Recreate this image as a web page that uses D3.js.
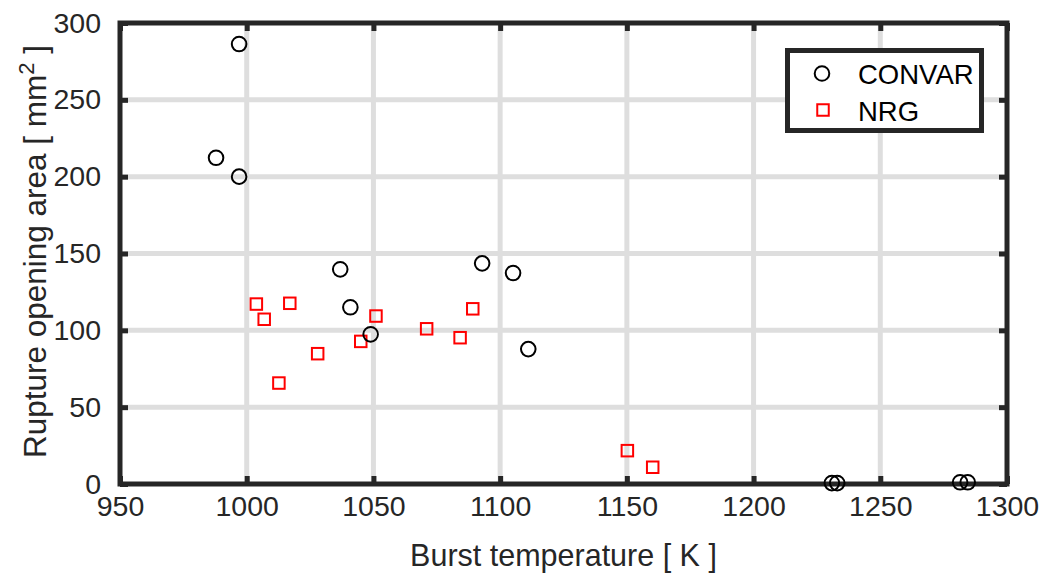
<!DOCTYPE html>
<html>
<head>
<meta charset="utf-8">
<script src="https://cdn.jsdelivr.net/npm/d3@7"></script>
<style>
  html, body { margin: 0; padding: 0; background: #fff; }
  svg { display: block; font-family: "Liberation Sans", Arial, sans-serif; }
</style>
</head>
<body>
<svg id="chart" width="1045" height="575"></svg>
<script>
// Burst temperature [K] and rupture opening area [mm^2]
const convarTemp = [997, 987.9, 997, 1036.9, 1040.9, 1048.9, 1092.9, 1105.1, 1111.1, 1230.9, 1233, 1281.5, 1284.5];
const convarArea = [286.3, 212.3, 200, 139.7, 115, 97.4, 143.6, 137.3, 87.8, 0.6, 0.6, 1.1, 1.1];
const nrgTemp = [1003.8, 1017, 1006.9, 1012.7, 1028, 1045, 1051, 1071, 1084.2, 1089.2, 1150.2, 1160.2];
const nrgArea = [117.1, 117.6, 107.2, 65.7, 84.8, 92.8, 109.3, 101, 95.2, 114, 21.7, 10.9];
const xTicks = [950, 1000, 1050, 1100, 1150, 1200, 1250, 1300];
const yTicks = [0, 50, 100, 150, 200, 250, 300];
const seriesNames = ["CONVAR", "NRG"];

const ink = "#262626";
const svg = d3.select("#chart");
const plotL = 120, plotR = 1007, plotT = 23, plotB = 484;

const x = d3.scaleLinear().domain([950, 1300]).range([plotL, plotR]);
const y = d3.scaleLinear().domain([0, 300]).range([plotB, plotT]);

// grid
const grid = svg.append("g");
grid.selectAll("line.gx").data(xTicks.slice(1, -1)).join("line")
  .attr("x1", d => x(d)).attr("x2", d => x(d))
  .attr("y1", plotT).attr("y2", plotB)
  .attr("stroke", "#dedede").attr("stroke-width", 5);
grid.selectAll("line.gy").data(yTicks.slice(1, -1)).join("line")
  .attr("y1", d => y(d)).attr("y2", d => y(d))
  .attr("x1", plotL).attr("x2", plotR)
  .attr("stroke", "#dedede").attr("stroke-width", 5);

// axes with inward ticks
const tickLen = 8;
const fmt = d3.format("d");
const xAxisB = d3.axisBottom(x).tickValues(xTicks).tickFormat(fmt).tickSize(-tickLen).tickPadding(22).tickSizeOuter(0);
const xAxisT = d3.axisTop(x).tickValues(xTicks).tickSize(-tickLen).tickFormat("").tickSizeOuter(0);
const yAxisL = d3.axisLeft(y).tickValues(yTicks).tickFormat(fmt).tickSize(-tickLen).tickPadding(19).tickSizeOuter(0);
const yAxisR = d3.axisRight(y).tickValues(yTicks).tickSize(-tickLen).tickFormat("").tickSizeOuter(0);

function style(g) {
  g.select(".domain").remove();
  g.selectAll(".tick line").attr("stroke", ink).attr("stroke-width", 5);
  g.selectAll(".tick text").attr("fill", ink).attr("font-size", 28.5);
}
svg.append("g").attr("transform", `translate(0,${plotB})`).call(xAxisB).call(style)
  .selectAll(".tick text").attr("dy", "0.35em");
svg.append("g").attr("transform", `translate(0,${plotT})`).call(xAxisT).call(style);
svg.append("g").attr("transform", `translate(${plotL},0)`).call(yAxisL).call(style);
svg.append("g").attr("transform", `translate(${plotR},0)`).call(yAxisR).call(style);

// box
svg.append("rect").attr("x", plotL).attr("y", plotT)
  .attr("width", plotR - plotL).attr("height", plotB - plotT)
  .attr("fill", "none").attr("stroke", ink).attr("stroke-width", 5)
  .attr("stroke-linejoin", "miter").attr("stroke-linecap", "square");

// data
const convar = d3.zip(convarTemp, convarArea);
const nrg = d3.zip(nrgTemp, nrgArea);
const sq = 11.5;
svg.append("g").selectAll("rect").data(nrg).join("rect")
  .attr("x", d => x(d[0]) - sq / 2).attr("y", d => y(d[1]) - sq / 2)
  .attr("width", sq).attr("height", sq)
  .attr("fill", "none").attr("stroke", "#ff0000").attr("stroke-width", 2);
svg.append("g").selectAll("circle").data(convar).join("circle")
  .attr("cx", d => x(d[0])).attr("cy", d => y(d[1])).attr("r", 7.3)
  .attr("fill", "none").attr("stroke", "#000").attr("stroke-width", 2);

// axis labels
svg.append("text").attr("x", (plotL + plotR) / 2).attr("y", 566)
  .attr("text-anchor", "middle").attr("fill", ink).attr("font-size", 30.5)
  .text("Burst temperature [ K ]");
const yl = svg.append("text")
  .attr("transform", `translate(46,${(plotT + plotB) / 2 - 2}) rotate(-90)`)
  .attr("text-anchor", "middle").attr("fill", ink).attr("font-size", 31.5);
yl.append("tspan").text("Rupture opening area [ mm");
yl.append("tspan").attr("dy", -12).attr("font-size", 22).text("2");
yl.append("tspan").attr("dy", 12).text(" ]");

// legend
const lg = svg.append("g");
lg.append("rect").attr("x", 787.5).attr("y", 50.5).attr("width", 194).attr("height", 80)
  .attr("fill", "#fff").attr("stroke", ink).attr("stroke-width", 5);
lg.append("circle").attr("cx", 822).attr("cy", 73.5).attr("r", 7.3)
  .attr("fill", "none").attr("stroke", "#000").attr("stroke-width", 2);
lg.append("rect").attr("x", 823 - sq / 2).attr("y", 110 - sq / 2).attr("width", sq).attr("height", sq)
  .attr("fill", "none").attr("stroke", "#ff0000").attr("stroke-width", 2);
lg.selectAll("text").data(seriesNames).join("text")
  .attr("x", 858).attr("y", (d, i) => 83.5 + i * 37)
  .attr("fill", "#000").attr("font-size", 27.5).text(d => d);
</script>
</body>
</html>
